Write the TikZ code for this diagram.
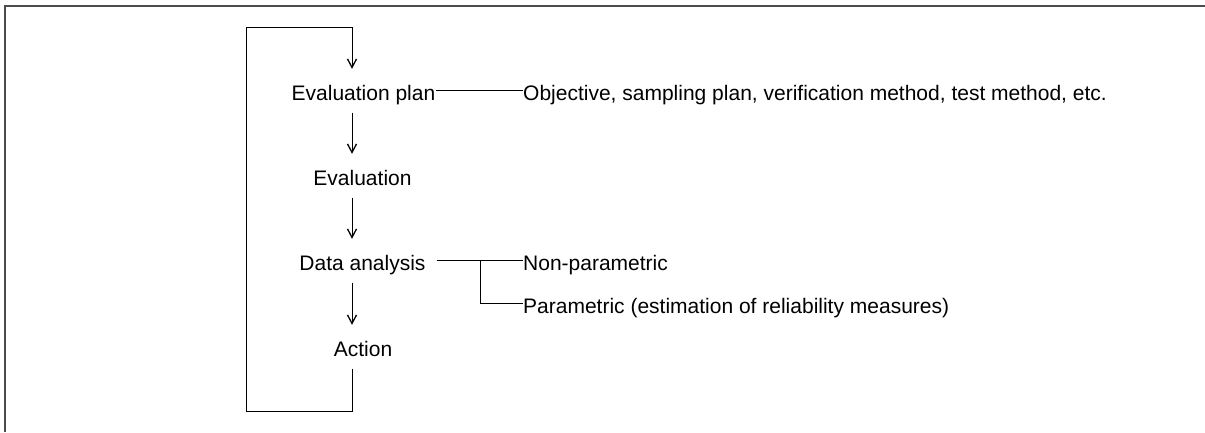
\documentclass[tikz,border=0pt]{standalone}
\usepackage{fontspec}
\setmainfont{Liberation Sans}
\usetikzlibrary{arrows.meta}
\begin{document}
\begin{tikzpicture}[x=1pt,y=-1pt,
  lbl/.style={inner sep=0pt, text height=20pt, text depth=0pt, font=\fontsize{21}{25}\selectfont},
  conn/.style={line width=1pt, black},
  arr/.style={conn, -{Straight Barb[length=8.5pt,width=9pt,line width=1.3pt]}, shorten <=12.5pt, shorten >=11pt},
  frame/.style={line width=2pt, draw=black!70}]
\useasboundingbox (0,0) rectangle (1205,432);
\draw[frame] (5,432) -- (5,5.5) -- (1205,5.5);
% text nodes
\node[lbl, anchor=base] (ep) at (363.5,100) {Evaluation plan};
\node[lbl, anchor=base] (ev) at (362.5,185) {Evaluation};
\node[lbl, anchor=base] (da) at (362.5,270) {Data analysis};
\node[lbl, anchor=base] (ac) at (363,356) {Action};
\node[lbl, anchor=base west] (obj) at (523,100) {Objective, sampling plan, verification method, test method, etc.};
\node[lbl, anchor=base west] (np) at (523,270) {Non-parametric};
\node[lbl, anchor=base west] (pa) at (523,313) {Parametric (estimation of reliability measures)};
% coordinates
\coordinate (c) at (352,0);
\coordinate (j) at (480,0);
\coordinate (tl) at (246,27);
\coordinate (tr) at (352,27);
\coordinate (bl) at (246,411);
\coordinate (br) at (352,411);
% arrows
\draw[arr] (ep.south -| c) -- (ev.north -| c);
\draw[arr] (ev.south -| c) -- (da.north -| c);
\draw[arr] (da.south -| c) -- (ac.north -| c);
\draw[arr] (ac.south -| c) -- (br) -- (bl) -- (tl) -- (tr) -- (ep.north -| c);
% side connectors
\draw[conn] (ep.east) -- (obj.west);
\draw[conn, shorten <=11pt] (da.east) -- (np.west);
\draw[conn] (da.east -| j) |- (pa.west);
\end{tikzpicture}
\end{document}
